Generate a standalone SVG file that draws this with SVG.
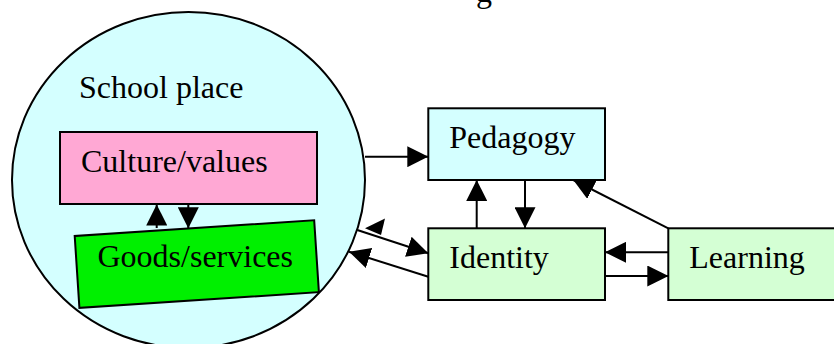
<svg xmlns="http://www.w3.org/2000/svg" width="834" height="344" viewBox="0 0 834 344">
<style>
  .lbl { font-family: "Liberation Serif", "Times New Roman", serif; font-size: 32px; fill: #000; }
  .box { stroke: #000; stroke-width: 2; }
  .con { stroke: #000; stroke-width: 2; fill: none; marker-end: url(#ah); }
</style>
<defs>
  <marker id="ah" markerUnits="userSpaceOnUse" markerWidth="21" markerHeight="21" refX="20" refY="10" orient="auto" viewBox="0 0 20 20">
    <path d="M0,0 L20,10 L0,20 z" fill="#000"/>
  </marker>
</defs>
<rect width="834" height="344" fill="#fff"/>
<text class="lbl" x="476" y="2">g</text>
<g id="school-place">
  <ellipse class="box" cx="188.5" cy="180" rx="176.5" ry="168" fill="#D4FFFF"/>
  <text class="lbl" x="79" y="98">School place</text>
</g>
<g id="culture-values">
  <rect class="box" x="60" y="132" width="257" height="72" fill="#FFA8D4"/>
  <text class="lbl" x="81" y="172">Culture/values</text>
</g>
<g id="goods-services">
  <rect class="box" x="0" y="0" width="240" height="72" fill="#00F000" transform="translate(74.7,236) rotate(-3.75)"/>
  <text class="lbl" x="97.5" y="267">Goods/services</text>
</g>
<g id="pedagogy">
  <rect class="box" x="428.3" y="108.3" width="176.7" height="71.7" fill="#D4FFFF"/>
  <text class="lbl" x="449.3" y="148">Pedagogy</text>
</g>
<g id="identity">
  <rect class="box" x="428.3" y="228.3" width="176.7" height="71.7" fill="#D4FFD4"/>
  <text class="lbl" x="449.3" y="268">Identity</text>
</g>
<g id="learning">
  <rect class="box" x="668.3" y="228.3" width="180" height="71.7" fill="#D4FFD4"/>
  <text class="lbl" x="689.3" y="268">Learning</text>
</g>
<g id="connectors">
  <path class="con" d="M156.7,228 L156.7,204.5"/>
  <path class="con" d="M188.3,204 L188.3,228.3"/>
  <path class="con" d="M365,156.7 L428.3,156.7"/>
  <path class="con" d="M476.7,228.3 L476.7,180"/>
  <path class="con" d="M525,180 L525,228.3"/>
  <path class="con" d="M668.3,228.3 L573.3,180"/>
  <path class="con" d="M668.3,252.3 L605,252.3"/>
  <path class="con" d="M605,276 L668.3,276"/>
  <path class="con" d="M357.3,230 L428.3,253.3"/>
  <path class="con" d="M428.3,276.7 L349,251.7"/>
  <polygon points="365,228.3 385,218.5 381,235" fill="#000"/>
</g>
</svg>
